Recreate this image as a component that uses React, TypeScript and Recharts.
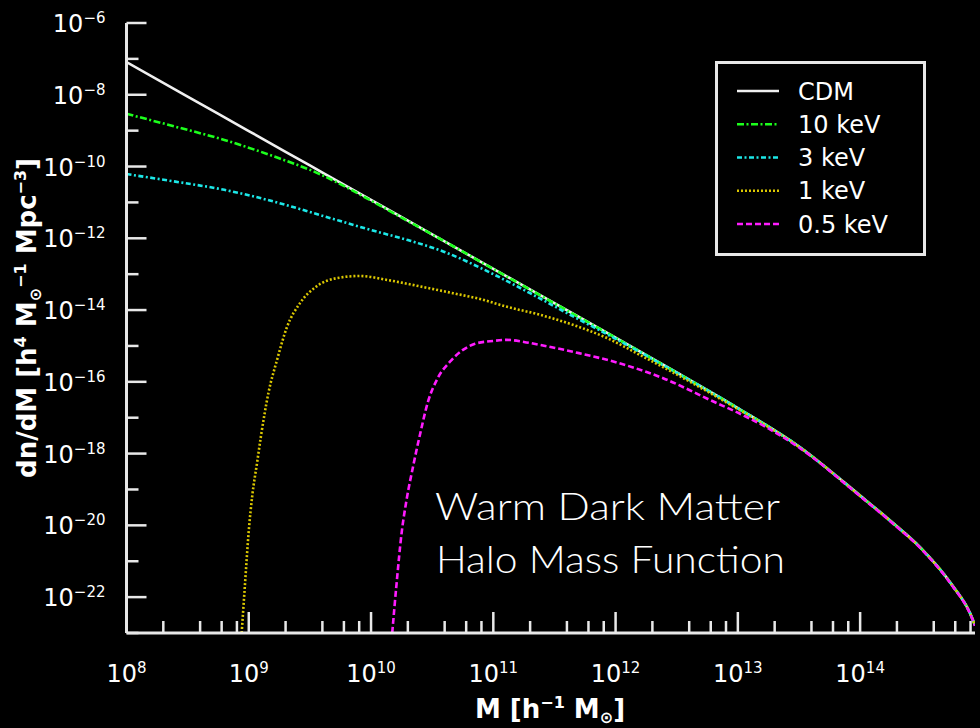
import { Legend, Line, LineChart, XAxis, YAxis } from "recharts";

// series styling (matplotlib-like)
const seriesNames = ["CDM", "10 keV", "3 keV", "1 keV", "0.5 keV"];
const seriesColors = ["#f0f0f0", "#1cff1c", "#1ce8e8", "#dcc800", "#ff1cff"];
const seriesDashes = ["", "7 2.5 2 2.5", "5 2.5 2 2.5", "2 2", "6 3"];

// values (mass in h^-1 Msun, dn/dM in h^4 Msun^-1 Mpc^-3)
const cdmMass = [1e8, 3.16e8, 1e9, 3.16e9, 1e10, 3.16e10, 1e11, 3.16e11, 1e12, 3.16e12, 1e13, 3.16e13, 1e14, 1.78e14, 3.16e14, 5.62e14, 7.94e14, 8.7e14];
const cdmDensity = [8.13e-8, 8.91e-9, 9.77e-10, 1.07e-10, 1.17e-11, 1.29e-12, 1.41e-13, 1.55e-14, 1.7e-15, 1.82e-16, 1.86e-17, 1.58e-18, 6.76e-20, 1.32e-20, 2.29e-21, 2.24e-22, 3.55e-23, 1.66e-23];

const kev10Mass = [1e8, 2.51e8, 6.31e8, 1.58e9, 3.98e9, 6.31e9, 1e10, 2e10, 3.16e10, 1e11, 3.16e11, 1e12, 3.16e12, 1e13, 3.16e13, 1e14, 1.78e14, 3.16e14, 5.62e14, 7.94e14, 8.7e14];
const kev10Density = [2.95e-9, 1.29e-9, 5.5e-10, 1.95e-10, 5.75e-11, 2.63e-11, 1.12e-11, 3.02e-12, 1.28e-12, 1.4e-13, 1.54e-14, 1.69e-15, 1.81e-16, 1.85e-17, 1.57e-18, 6.7e-20, 1.31e-20, 2.27e-21, 2.22e-22, 3.5e-23, 1.64e-23];

const kev3Mass = [1e8, 2.51e8, 6.31e8, 1.58e9, 3.98e9, 1e10, 2e10, 3.98e10, 1e11, 2e11, 3.98e11, 1e12, 3.16e12, 1e13, 3.16e13, 1e14, 1.78e14, 3.16e14, 5.62e14, 7.94e14, 8.7e14];
const kev3Density = [6.17e-11, 3.8e-11, 2.24e-11, 1.07e-11, 4.27e-12, 1.7e-12, 8.91e-13, 4.17e-13, 1e-13, 2.95e-14, 8.32e-15, 1.58e-15, 1.78e-16, 1.84e-17, 1.56e-18, 6.65e-20, 1.3e-20, 2.26e-21, 2.2e-22, 3.48e-23, 1.63e-23];

const kev1Mass = [8.75e8, 9.33e8, 1e9, 1.07e9, 1.17e9, 1.26e9, 1.45e9, 1.7e9, 2.04e9, 2.63e9, 3.55e9, 5.25e9, 8.13e9, 1.35e10, 2.51e10, 4.68e10, 7.94e10, 1.26e11, 2.4e11, 4.47e11, 8.51e11, 1.58e12, 2.95e12, 5.5e12, 1e13, 3.16e13, 1e14, 1.78e14, 3.16e14, 5.62e14, 7.94e14, 8.7e14];
const kev1Density = [1e-23, 2.51e-22, 7.08e-21, 7.08e-20, 5.62e-19, 3.16e-18, 5.01e-17, 3.98e-16, 3.16e-15, 1.58e-14, 4.47e-14, 7.76e-14, 8.91e-14, 6.92e-14, 4.57e-14, 2.95e-14, 2e-14, 1.26e-14, 7.41e-15, 3.89e-15, 1.66e-15, 5.62e-16, 1.82e-16, 5.62e-17, 1.74e-17, 1.55e-18, 6.61e-20, 1.29e-20, 2.24e-21, 2.19e-22, 3.47e-23, 1.62e-23];

const kev05Mass = [1.49e10, 1.62e10, 1.78e10, 1.95e10, 2.21e10, 2.51e10, 2.92e10, 3.52e10, 4.42e10, 5.65e10, 7.08e10, 1e11, 1.29e11, 1.78e11, 2.4e11, 5.01e11, 1.07e12, 2.45e12, 6.31e12, 1e13, 1.78e13, 3.16e13, 1e14, 1.78e14, 3.16e14, 5.62e14, 7.94e14, 8.7e14];
const kev05Density = [1e-23, 2.51e-22, 6.31e-21, 5.01e-20, 4.47e-19, 3.31e-18, 2.75e-17, 1.29e-16, 3.63e-16, 7.76e-16, 1.15e-15, 1.38e-15, 1.48e-15, 1.29e-15, 1.07e-15, 6.31e-16, 3.31e-16, 1.26e-16, 2.82e-17, 1.38e-17, 5.01e-18, 1.48e-18, 6.46e-20, 1.26e-20, 2.19e-21, 2.14e-22, 3.39e-23, 1.58e-23];

// axes
const xDomain = [1e8, 8.7e14];
const yDomain = [1e-23, 1e-6];
const xDecades = [1e8, 1e9, 1e10, 1e11, 1e12, 1e13, 1e14];
const xMinorSteps = [2, 4, 6, 8];
const yDecades = [1e-23, 1e-22, 1e-21, 1e-20, 1e-19, 1e-18, 1e-17, 1e-16, 1e-15, 1e-14, 1e-13, 1e-12, 1e-11, 1e-10, 1e-9, 1e-8, 1e-7, 1e-6];

const xTicks = xDecades
  .flatMap((d) => [d, ...xMinorSteps.map((k) => k * d)])
  .filter((v) => v <= xDomain[1]);

const toRows = (mass: number[], density: number[]) => mass.map((m, i) => ({ m, n: density[i] }));

const seriesData = [
  toRows(cdmMass, cdmDensity),
  toRows(kev10Mass, kev10Density),
  toRows(kev3Mass, kev3Density),
  toRows(kev1Mass, kev1Density),
  toRows(kev05Mass, kev05Density),
];

const AXIS = "#e8e8e8";
const FONT = "'DejaVu Sans', Verdana, sans-serif";

const exponentOf = (v: number) => Math.round(Math.log10(v));
const isDecade = (v: number) => Math.abs(Math.log10(v) - exponentOf(v)) < 1e-9;
const expText = (e: number) => (e < 0 ? `\u2212${-e}` : `${e}`);

function PowerLabel({ x, y, exp, anchor }: { x: number; y: number; exp: number; anchor: string }) {
  return (
    <text x={x} y={y} textAnchor={anchor} fill="#fff" fontFamily={FONT} fontSize={24}>
      10
      <tspan fontSize={15} dy={-9}>
        {expText(exp)}
      </tspan>
    </text>
  );
}

function BottomTick(props: any) {
  const { x, y, payload } = props;
  const major = isDecade(payload.value);
  return (
    <g>
      <line x1={x} x2={x} y1={y} y2={y - (major ? 21 : 12)} stroke={AXIS} strokeWidth={2.5} />
      {major && <PowerLabel x={x} y={y + 49} exp={exponentOf(payload.value)} anchor="middle" />}
    </g>
  );
}

function TopTick(props: any) {
  const { x, y, payload } = props;
  const major = isDecade(payload.value);
  return <line x1={x} x2={x} y1={y} y2={y + (major ? 21 : 12)} stroke={AXIS} strokeWidth={2.5} />;
}

function LeftTick(props: any) {
  const { x, y, payload } = props;
  const exp = exponentOf(payload.value);
  const labelled = exp % 2 === 0;
  return (
    <g>
      <line x1={x} x2={x + (labelled ? 20 : 12)} y1={y} y2={y} stroke={AXIS} strokeWidth={2.5} />
      {labelled && <PowerLabel x={x - 21} y={y + 9} exp={exp} anchor="end" />}
    </g>
  );
}

function RightTick(props: any) {
  const { x, y, payload } = props;
  const labelled = exponentOf(payload.value) % 2 === 0;
  return <line x1={x} x2={x - (labelled ? 20 : 12)} y1={y} y2={y} stroke={AXIS} strokeWidth={2.5} />;
}

function LegendBox() {
  return (
    <svg width={212} height={196}>
      <rect x={1.5} y={1.5} width={208} height={192} fill="#000" stroke={AXIS} strokeWidth={3} />
      {seriesNames.map((name, i) => {
        const cy = 30 + i * 33.25;
        return (
          <g key={name}>
            <line
              x1={22}
              x2={64}
              y1={cy}
              y2={cy}
              stroke={seriesColors[i]}
              strokeWidth={2.5}
              strokeDasharray={seriesDashes[i] || undefined}
            />
            <text x={83} y={cy + 8.5} fill="#fff" fontFamily={FONT} fontSize={24}>
              {name}
            </text>
          </g>
        );
      })}
    </svg>
  );
}

export default function App() {
  return (
    <div style={{ position: "relative", width: 980, height: 728, background: "#000" }}>
      <style>{"body{margin:0;background:#000}"}</style>
      <LineChart width={980} height={728} margin={{ top: 23, right: 5, bottom: 0, left: 0 }}>
        <XAxis
          xAxisId="bottom"
          type="number"
          dataKey="m"
          scale="log"
          domain={xDomain}
          allowDataOverflow
          ticks={xTicks}
          interval={0}
          height={95}
          tickSize={0}
          tickMargin={0}
          tickLine={false}
          axisLine={{ stroke: AXIS, strokeWidth: 3 }}
          tick={(p: any) => <BottomTick {...p} />}
        />
        <XAxis
          xAxisId="top"
          orientation="top"
          type="number"
          dataKey="m"
          scale="log"
          domain={xDomain}
          allowDataOverflow
          ticks={xTicks}
          interval={0}
          height={0}
          tickSize={0}
          tickMargin={0}
          tickLine={false}
          axisLine={{ stroke: AXIS, strokeWidth: 3 }}
          tick={(p: any) => <TopTick {...p} />}
        />
        <YAxis
          yAxisId="left"
          type="number"
          dataKey="n"
          scale="log"
          domain={yDomain}
          allowDataOverflow
          ticks={yDecades}
          interval={0}
          width={126.5}
          tickSize={0}
          tickMargin={0}
          tickLine={false}
          axisLine={{ stroke: AXIS, strokeWidth: 3 }}
          tick={(p: any) => <LeftTick {...p} />}
        />
        <YAxis
          yAxisId="right"
          orientation="right"
          type="number"
          dataKey="n"
          scale="log"
          domain={yDomain}
          allowDataOverflow
          ticks={yDecades}
          interval={0}
          width={0}
          tickSize={0}
          tickMargin={0}
          tickLine={false}
          axisLine={{ stroke: AXIS, strokeWidth: 3 }}
          tick={(p: any) => <RightTick {...p} />}
        />
        {seriesData.map((rows, i) => (
          <Line
            key={seriesNames[i]}
            xAxisId="bottom"
            yAxisId="left"
            data={rows}
            dataKey="n"
            name={seriesNames[i]}
            type="monotone"
            stroke={seriesColors[i]}
            strokeWidth={2.6}
            strokeDasharray={seriesDashes[i] || undefined}
            dot={false}
            activeDot={false}
            isAnimationActive={false}
          />
        ))}
        <Legend
          layout="horizontal"
          verticalAlign="middle"
          align="center"
          content={() => <LegendBox />}
          wrapperStyle={{ position: "absolute", left: 715, top: 61, width: 212, height: 196 }}
        />
      </LineChart>
      <svg
        width={980}
        height={728}
        style={{ position: "absolute", left: 0, top: 0, pointerEvents: "none" }}
      >
        <text
          transform="translate(36,318) rotate(-90)"
          textAnchor="middle"
          fill="#fff"
          fontFamily={FONT}
          fontWeight="bold"
          fontSize={26}
        >
          dn/dM [h
          <tspan fontSize={16} dy={-10}>4</tspan>
          <tspan dy={10}> M</tspan>
          <tspan fontSize={16} dy={5}>⊙</tspan>
          <tspan fontSize={16} dy={-15}>−1</tspan>
          <tspan dy={10}> Mpc</tspan>
          <tspan fontSize={16} dy={-10}>−3</tspan>
          <tspan dy={10}>]</tspan>
        </text>
        <text x={550} y={718} textAnchor="middle" fill="#fff" fontFamily={FONT} fontWeight="bold" fontSize={26}>
          M [h
          <tspan fontSize={16} dy={-10}>−1</tspan>
          <tspan dy={10}> M</tspan>
          <tspan fontSize={16} dy={5}>⊙</tspan>
          <tspan dy={-5}>]</tspan>
        </text>
        <text
          x={435}
          y={520}
          fill="#fff"
          fontFamily="Lato, 'Open Sans', sans-serif"
          fontWeight={300}
          fontSize={38}
          textLength={345}
          lengthAdjust="spacingAndGlyphs"
        >
          Warm Dark Matter
        </text>
        <text
          x={436}
          y={573}
          fill="#fff"
          fontFamily="Lato, 'Open Sans', sans-serif"
          fontWeight={300}
          fontSize={38}
          textLength={349}
          lengthAdjust="spacingAndGlyphs"
        >
          Halo Mass Function
        </text>
      </svg>
    </div>
  );
}
